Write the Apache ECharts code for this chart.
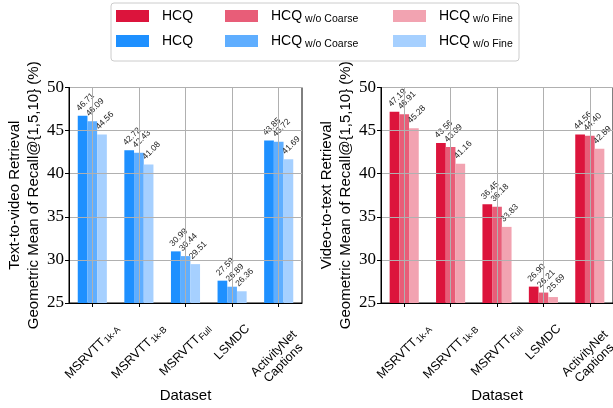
<!DOCTYPE html>
<html><head><meta charset="utf-8">
<script src="https://cdn.jsdelivr.net/npm/echarts@6/dist/echarts.min.js"></script>
<style>html,body{margin:0;padding:0;background:#fff}#c{width:613px;height:408px}</style>
</head><body><div id="c"></div>
<script>
// ---- data ----
const categories = ['MSRVTT1k-A', 'MSRVTT1k-B', 'MSRVTTFull', 'LSMDC', 'ActivityNet Captions'];
const catMain = ['MSRVTT', 'MSRVTT', 'MSRVTT', 'LSMDC', 'ActivityNet\nCaptions'];
const catSub = ['1k-A', '1k-B', 'Full', '', ''];
const t2vHCQ = [46.71, 42.72, 30.99, 27.59, 43.85];
const t2vNoCoarse = [46.09, 42.43, 30.44, 26.89, 43.72];
const t2vNoFine = [44.56, 41.08, 29.51, 26.36, 41.69];
const v2tHCQ = [47.19, 43.56, 36.45, 26.90, 44.56];
const v2tNoCoarse = [46.91, 43.09, 36.18, 26.21, 44.40];
const v2tNoFine = [45.28, 41.16, 33.83, 25.69, 42.89];
const yMin = 25, yMax = 50, yStep = 5;
const yTitleLeft = 'Text-to-video Retrieval\nGeometric Mean of Recall@{1,5,10} (%)';
const yTitleRight = 'Video-to-text Retrieval\nGeometric Mean of Recall@{1,5,10} (%)';
const xTitle = 'Dataset';
const legendLabels = { hcq: ['HCQ', ''], nc: ['HCQ', 'w/o Coarse'], nf: ['HCQ', 'w/o Fine'] };

// ---- style ----
const SANS = '"Liberation Sans", Arial, Helvetica, sans-serif';
const SERIF = '"Liberation Serif", "Times New Roman", serif';
const reds = ['#DC143C', '#E85D78', '#F2A3B1'];
const blues = ['#1E90FF', '#5FAEFF', '#A6D0FF'];
const GRIDC = '#b0b0b0';

const ctx = document.createElement('canvas').getContext('2d');
function tw(t, fs) { ctx.font = fs + 'px ' + SANS; return ctx.measureText(t).width; }
const XFS = 12.5, XSFS = 9, XLH = 13.5;

function xAxisCfg(gi) {
  return {
    type: 'category', gridIndex: gi, data: categories, boundaryGap: true, z: 5,
    name: xTitle, nameLocation: 'middle', nameGap: 85,
    nameTextStyle: { fontFamily: SANS, fontSize: 15, color: '#000' },
    axisLine: { show: true, lineStyle: { color: '#000', width: 1 } },
    axisTick: { show: true, alignWithLabel: true, length: 4, lineStyle: { color: '#000' } },
    splitLine: { show: false },
    axisLabel: { show: false, interval: 0 }
  };
}
function yAxisCfg(gi, title, gap) {
  return {
    type: 'value', gridIndex: gi, min: yMin, max: yMax, interval: yStep, z: 5,
    name: title, nameLocation: 'middle', nameGap: gap, nameRotate: 90,
    nameTextStyle: { fontFamily: SANS, fontSize: 15, lineHeight: 19, color: '#000', align: 'center' },
    axisLine: { show: true, lineStyle: { color: '#000', width: 1 } },
    axisTick: { show: true, length: 4, lineStyle: { color: '#000' } },
    splitLine: { show: true, lineStyle: { color: GRIDC, width: 1 } },
    axisLabel: { fontFamily: SERIF, fontSize: 17, color: '#000', margin: 5 }
  };
}
function barSeries(name, data, color, gi, withGrid) {
  const s = {
    type: 'bar', name: name, data: data, xAxisIndex: gi, yAxisIndex: gi,
    barWidth: 9.7, barGap: '0%', itemStyle: { color: color },
    label: {
      show: true, position: 'top', distance: 11, rotate: 45, align: 'center', verticalAlign: 'middle',
      offset: [4, 0],
      fontFamily: SANS, fontSize: 8.5, color: '#222',
      formatter: p => p.value.toFixed(2)
    }
  };
  if (withGrid) {
    // middle bar of each group sits on the category centre -> vertical grid lines
    s.markLine = {
      silent: true, symbol: 'none', animation: false, z: 10,
      label: { show: false },
      lineStyle: { color: GRIDC, width: 1, type: 'solid' },
      data: categories.map(c => ({ xAxis: c }))
    };
  }
  return s;
}
const names = ['v2t_hcq', 'v2t_nc', 'v2t_nf', 't2v_hcq', 't2v_nc', 't2v_nf'];
const keyOf = n => n.split('_')[1];
function legendCfg(name, left, top) {
  return {
    data: [name], left: left, top: top, padding: 0, icon: 'rect', itemWidth: 33, itemHeight: 12,
    selectedMode: false,
    formatter: n => { const l = legendLabels[keyOf(n)]; return l[1] ? '{m|' + l[0] + '}{s|' + l[1] + '}' : '{m|' + l[0] + '}'; },
    textStyle: {
      padding: [0, 0, 0, 8],
      rich: {
        m: { fontFamily: SANS, fontSize: 14, lineHeight: 18, color: '#000' },
        s: { fontFamily: SANS, fontSize: 10.5, lineHeight: 10, verticalAlign: 'bottom', color: '#000', padding: [0, 0, 0, 3] }
      }
    }
  };
}
const swX = [116, 225, 393];
const legends = [];
names.forEach((n, i) => legends.push(legendCfg(n, swX[i % 3], i < 3 ? 9 : 34)));

const chart = echarts.init(document.getElementById('c'), null, { renderer: 'canvas' });
chart.setOption({
  animation: false,
  backgroundColor: '#fff',
  legend: legends,
  grid: [
    { left: 69, top: 87.5, width: 233, height: 231, show: true, borderColor: '#000', borderWidth: 1, backgroundColor: 'transparent' },
    { left: 381, top: 87.5, width: 233, height: 231, show: true, borderColor: '#000', borderWidth: 1, backgroundColor: 'transparent' }
  ],
  xAxis: [xAxisCfg(0), xAxisCfg(1)],
  yAxis: [yAxisCfg(0, yTitleLeft, 20), yAxisCfg(1, yTitleRight, 18)],
  series: [
    barSeries('t2v_hcq', t2vHCQ, blues[0], 0),
    barSeries('t2v_nc', t2vNoCoarse, blues[1], 0, true),
    barSeries('t2v_nf', t2vNoFine, blues[2], 0),
    barSeries('v2t_hcq', v2tHCQ, reds[0], 1),
    barSeries('v2t_nc', v2tNoCoarse, reds[1], 1, true),
    barSeries('v2t_nf', v2tNoFine, reds[2], 1)
  ]
});

// rotated category labels (matplotlib-style: rotated box centred under tick, top just below axis)
const graphics = [{ type: 'rect', shape: { x: 111, y: 3, width: 408, height: 58, r: 3 }, style: { fill: '#fff', stroke: '#cccccc', lineWidth: 1 }, z: -1 }];
[0, 1].forEach(gi => {
  const axisY = chart.convertToPixel({ yAxisIndex: gi }, yMin);
  categories.forEach((c, i) => {
    const tx = chart.convertToPixel({ xAxisIndex: gi }, c);
    const lines = catMain[i].split('\n');
    const L = Math.max(...lines.map(l => tw(l, XFS))) + (catSub[i] ? 1 + tw(catSub[i], XSFS) : 0);
    const S = L + lines.length * XLH;
    const text = catSub[i] ? '{m|' + catMain[i] + '}{s|' + catSub[i] + '}'
      : lines.map(l => '{m|' + l + '}').join('\n');
    graphics.push({
      type: 'text', x: tx, y: axisY + 19 + (lines.length - 1) * 6 + S * 0.3536, rotation: Math.PI / 4, z: 10,
      style: {
        text: text, align: 'center', verticalAlign: 'middle',
        fontFamily: SANS, fontSize: XFS, fill: '#000',
        rich: {
          m: { fontFamily: SANS, fontSize: XFS, lineHeight: XLH, fill: '#000', align: 'center' },
          s: { fontFamily: SANS, fontSize: XSFS, lineHeight: 8, verticalAlign: 'bottom', fill: '#000', padding: [0, 0, 0, 1] }
        }
      }
    });
  });
});
chart.setOption({ graphic: graphics });
</script></body></html>
